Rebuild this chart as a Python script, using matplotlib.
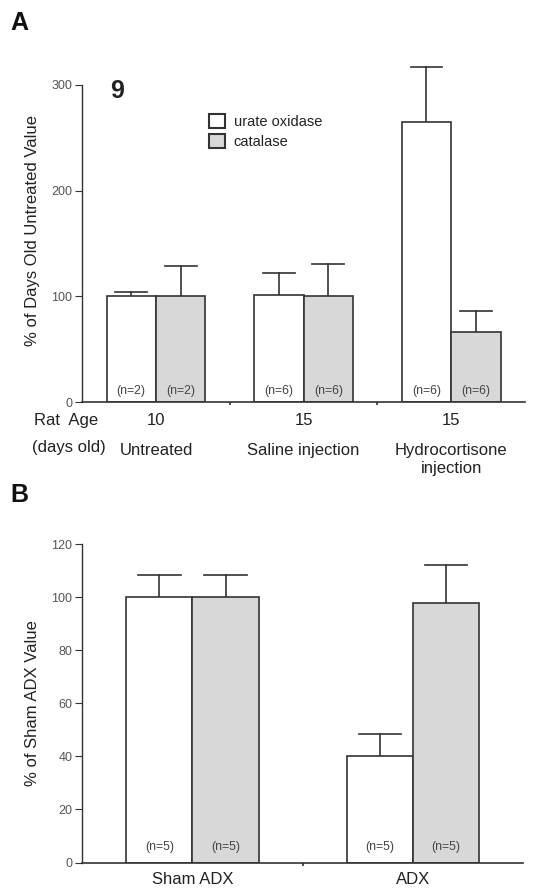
import matplotlib
matplotlib.use("Agg")
import matplotlib.pyplot as plt
import numpy as np
from matplotlib.patches import Patch

plt.rcParams['font.family'] = ['Liberation Sans', 'DejaVu Sans']

# panel A data
a_groups = ["Untreated", "Saline injection", "Hydrocortisone\ninjection"]
a_ages = ["10", "15", "15"]
a_urate = [100, 101, 265]
a_urate_err = [4, 21, 52]
a_catalase = [100, 100, 66]
a_catalase_err = [29, 31, 20]
a_n_urate = ["(n=2)", "(n=6)", "(n=6)"]
a_n_catalase = ["(n=2)", "(n=6)", "(n=6)"]

# panel B data
b_groups = ["Sham ADX", "ADX"]
b_urate = [100, 40]
b_urate_err = [8.5, 8.5]
b_catalase = [100, 98]
b_catalase_err = [8.5, 14]
b_n_urate = ["(n=5)", "(n=5)"]
b_n_catalase = ["(n=5)", "(n=5)"]

GRAY = "#d8d8d8"
EDGE = "#333333"
TICKC = "#555555"

fig = plt.figure(figsize=(5.59, 8.92), dpi=100)


def style_axes(ax, ymax, ystep, ngroups):
    for s in ["top", "right"]:
        ax.spines[s].set_visible(False)
    ax.spines["left"].set_color(EDGE)
    ax.spines["bottom"].set_color(EDGE)
    ax.spines["left"].set_linewidth(1.0)
    ax.spines["bottom"].set_linewidth(1.2)
    ax.set_ylim(0, ymax)
    ax.set_xlim(-0.5, ngroups - 0.5)
    ax.set_yticks(np.arange(0, ymax + 1, ystep))
    ax.tick_params(axis="y", direction="out", length=5, width=0.8,
                   labelsize=9, labelcolor=TICKC, color=EDGE, pad=2)
    ax.set_xticks(np.arange(ngroups - 1) + 0.5)
    ax.tick_params(axis="x", direction="out", length=2, width=1.2,
                   color=EDGE, labelbottom=False)


def draw_bars(ax, urate, uerr, cat, cerr, nu, nc, width, ny):
    x = np.arange(len(urate))
    ax.bar(x - width / 2, urate, width, color="white", edgecolor=EDGE,
           linewidth=1.2, zorder=2)
    ax.bar(x + width / 2, cat, width, color=GRAY, edgecolor=EDGE,
           linewidth=1.2, zorder=2)
    for xs, vals, errs in [(x - width / 2, urate, uerr), (x + width / 2, cat, cerr)]:
        for xi, v, e in zip(xs, vals, errs):
            ax.plot([xi, xi], [v, v + e], color=EDGE, lw=1.2, zorder=1,
                    clip_on=False)
            ax.plot([xi - width * 0.32, xi + width * 0.32], [v + e, v + e],
                    color=EDGE, lw=1.2, zorder=1, clip_on=False)
    for xi, t in zip(x - width / 2, nu):
        ax.text(xi, ny, t, ha="center", va="center", fontsize=8.8, color="#444444")
    for xi, t in zip(x + width / 2, nc):
        ax.text(xi, ny, t, ha="center", va="center", fontsize=8.8, color="#444444")


# ---- panel A
axA = fig.add_axes([0.147, 0.549, 0.792, 0.356])
style_axes(axA, 300, 100, 3)
draw_bars(axA, a_urate, a_urate_err, a_catalase, a_catalase_err,
          a_n_urate, a_n_catalase, 0.335, 11)
axA.set_ylabel("% of Days Old Untreated Value", fontsize=12, color="#222222")
axA.yaxis.set_label_coords(-0.095, 0.54)
axA.text(-0.31, 294, "9", fontsize=18, fontweight="bold", ha="left",
         va="center", color="#222222")
for i, (age, grp) in enumerate(zip(a_ages, a_groups)):
    axA.text(i, -10, age, ha="center", va="top", fontsize=12,
             color="#222222")
    axA.text(i, -38, grp, ha="center", va="top", fontsize=12,
             color="#222222", linespacing=1.25)
axA.text(-0.61, -10, "Rat  Age", ha="center", va="top", fontsize=12,
         color="#222222", clip_on=False)
axA.text(-0.59, -36, "(days old)", ha="center", va="top", fontsize=12,
         color="#222222", clip_on=False)
handles = [Patch(facecolor="white", edgecolor=EDGE, linewidth=1.5),
           Patch(facecolor=GRAY, edgecolor=EDGE, linewidth=1.5)]
axA.legend(handles, ["urate oxidase", "catalase"], loc="upper left",
           bbox_to_anchor=(0.27, 0.93), frameon=False, fontsize=10.5,
           handlelength=1.1, handleheight=1.1, handletextpad=0.6,
           labelspacing=0.35, borderpad=0, labelcolor="#222222")

# ---- panel B
axB = fig.add_axes([0.147, 0.033, 0.789, 0.357])
style_axes(axB, 120, 20, 2)
draw_bars(axB, b_urate, b_urate_err, b_catalase, b_catalase_err,
          b_n_urate, b_n_catalase, 0.3, 6)
axB.set_ylabel("% of Sham ADX Value", fontsize=12, color="#222222")
axB.yaxis.set_label_coords(-0.095, 0.5)
for i, grp in enumerate(b_groups):
    axB.text(i, -3.5, grp, ha="center", va="top", fontsize=12,
             color="#222222")

fig.text(0.018, 0.966, "A", fontsize=18, fontweight="bold", color="#111111",
         ha="left", va="baseline")
fig.text(0.018, 0.437, "B", fontsize=18, fontweight="bold", color="#111111",
         ha="left", va="baseline")

fig.savefig("out.png", dpi=100)
